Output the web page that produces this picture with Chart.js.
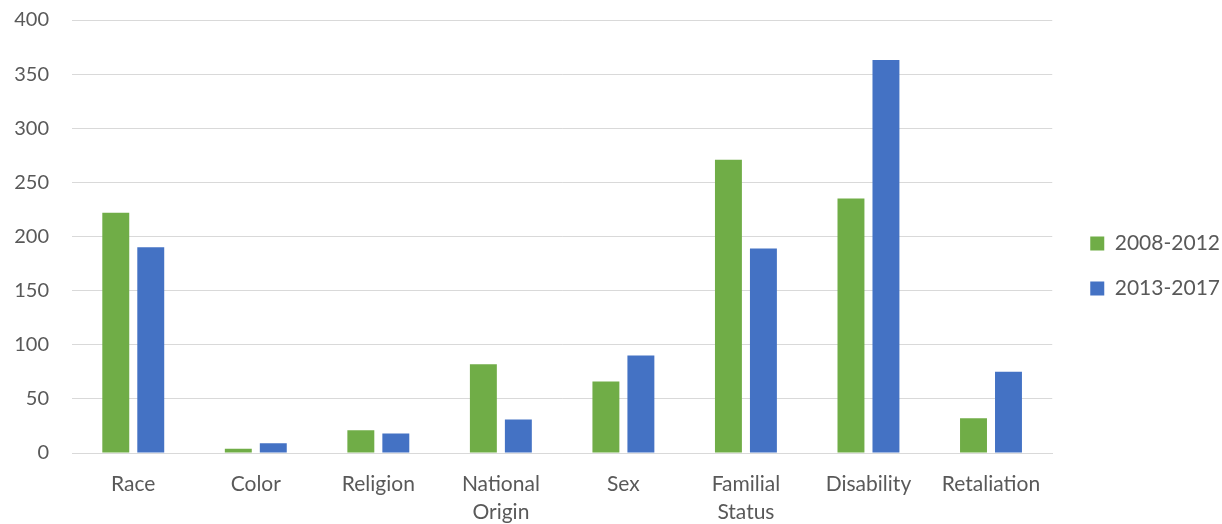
<!DOCTYPE html>
<html>
<head>
<meta charset="utf-8">
<script src="https://cdn.jsdelivr.net/npm/chart.js@4"></script>
<style>
  html, body { margin: 0; padding: 0; background: #ffffff; }
  #wrap { width: 1222px; height: 524px; }
</style>
</head>
<body>
<div id="wrap"><canvas id="c" width="1222" height="524"></canvas></div>
<script>
// Complaint counts by protected basis, two five-year periods
const categories = ['Race', 'Color', 'Religion', ['National', 'Origin'], 'Sex', ['Familial', 'Status'], 'Disability', 'Retaliation'];
const seriesNames = ['2008-2012', '2013-2017'];
const period2008 = [222, 4, 21, 82, 66, 271, 235, 32];
const period2013 = [190, 9, 18, 31, 90, 189, 363, 75];
const yTicks = [0, 50, 100, 150, 200, 250, 300, 350, 400];

const FONT = 'Lato, "Open Sans", sans-serif';
const TEXT = '#595959';
const GRID = '#d9d9d9';

// Empty layout box that keeps some room between the plot and the legend
const legendGap = {
  id: 'legendGap',
  beforeInit(chart) {
    const gap = {
      position: 'right',
      weight: 500,
      fullSize: false,
      options: {},
      width: 0, height: 0, left: 0, top: 0, right: 0, bottom: 0,
      update(maxWidth, maxHeight) { this.width = 14; this.height = maxHeight; },
      isHorizontal() { return false; },
      draw() {}
    };
    Chart.layouts.addBox(chart, gap);
  }
};

new Chart(document.getElementById('c'), {
  type: 'bar',
  data: {
    labels: categories,
    datasets: [
      { label: seriesNames[0], data: period2008, backgroundColor: '#70ad47', barPercentage: 0.77, categoryPercentage: 0.571 },
      { label: seriesNames[1], data: period2013, backgroundColor: '#4472c4', barPercentage: 0.77, categoryPercentage: 0.571 }
    ]
  },
  plugins: [legendGap],
  options: {
    responsive: false,
    animation: false,
    layout: { padding: { top: 8, right: -8, bottom: 0, left: 0 } },
    plugins: {
      tooltip: { enabled: false },
      legend: {
        position: 'right',
        labels: {
          font: { family: FONT, size: 21 },
          color: TEXT,
          boxWidth: 14,
          boxHeight: 14,
          padding: 24
        }
      }
    },
    scales: {
      x: {
        grid: { display: false, drawTicks: false },
        border: { display: true, color: GRID, width: 1 },
        ticks: { font: { family: FONT, size: 21, lineHeight: 1.35 }, color: TEXT, padding: 17, maxRotation: 0, autoSkip: false },
        afterFit(scale) {
          scale.height = 71;
          scale.paddingLeft = 0;
          scale.paddingRight = 0;
        }
      },
      y: {
        min: 0,
        max: 400,
        afterBuildTicks(axis) { axis.ticks = yTicks.map(v => ({ value: v })); },
        grid: { color: GRID, lineWidth: 1, drawTicks: false },
        border: { display: false },
        ticks: { font: { family: FONT, size: 20 }, color: TEXT, padding: 23 },
        afterFit(scale) {
          scale.width = 72;
          scale.paddingTop = 20;
          scale.paddingBottom = 0;
        }
      }
    }
  }
});
</script>
</body>
</html>
